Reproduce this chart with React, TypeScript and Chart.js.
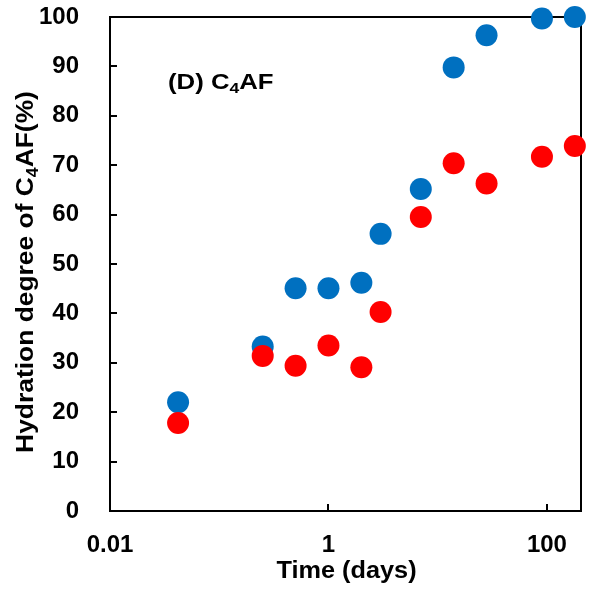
import React, { useEffect, useRef } from "react";
import { Chart, registerables } from "chart.js";

Chart.register(...registerables);

// ---- data ----
const timeDays = [0.042, 0.25, 0.5, 1, 2, 3, 7, 14, 28, 90, 180];
const blueSeries = [22.0, 33.3, 45.1, 45.1, 46.2, 56.1, 65.2, 89.8, 96.3, 99.7, 100.0];
const redSeries = [17.8, 31.4, 29.4, 33.5, 29.1, 40.3, 59.5, 70.4, 66.3, 71.7, 73.9];
const xTickValues = [0.01, 1, 100];
const xTickLabels = ["0.01", "1", "100"];
const yTickValues = [0, 10, 20, 30, 40, 50, 60, 70, 80, 90, 100];

const FONT = "'Liberation Sans', Arial, sans-serif";

type Seg = { text: string; sub?: boolean };

function drawRich(
  ctx: CanvasRenderingContext2D,
  segs: Seg[],
  size: number,
  subSize: number,
  subDrop: number,
  stretch: number,
  align: "left" | "center"
) {
  const widths = segs.map((s) => {
    ctx.font = `bold ${s.sub ? subSize : size}px ${FONT}`;
    return ctx.measureText(s.text).width;
  });
  const total = widths.reduce((a, b) => a + b, 0);
  ctx.save();
  ctx.scale(stretch, 1);
  let x = align === "center" ? -total / 2 : 0;
  ctx.textBaseline = "alphabetic";
  ctx.textAlign = "left";
  segs.forEach((s, i) => {
    ctx.font = `bold ${s.sub ? subSize : size}px ${FONT}`;
    ctx.fillText(s.text, x, s.sub ? subDrop : 0);
    x += widths[i];
  });
  ctx.restore();
}

const framePlugin = {
  id: "frameAndTicks",
  beforeDatasetsDraw(chart: any) {
    const { ctx, chartArea } = chart;
    const x = chart.scales.x;
    const y = chart.scales.y;
    ctx.save();
    ctx.strokeStyle = "#000";
    ctx.lineWidth = 2;
    ctx.beginPath();
    ctx.moveTo(chartArea.left, chartArea.top);
    ctx.lineTo(chartArea.right, chartArea.top);
    ctx.lineTo(chartArea.right, chartArea.bottom);
    ctx.stroke();
    ctx.beginPath();
    yTickValues.forEach((v) => {
      const py = Math.round(y.getPixelForValue(v));
      ctx.moveTo(chartArea.left, py);
      ctx.lineTo(chartArea.left + 7, py);
    });
    xTickValues.forEach((v) => {
      const px = Math.round(x.getPixelForValue(v));
      ctx.moveTo(px, chartArea.bottom);
      ctx.lineTo(px, chartArea.bottom - 7);
    });
    ctx.stroke();
    ctx.restore();
  },
  afterDraw(chart: any) {
    const { ctx, chartArea } = chart;
    ctx.save();
    ctx.fillStyle = "#000";
    ctx.save();
    ctx.translate((chartArea.left + chartArea.right) / 2 + 1, 578);
    drawRich(ctx, [{ text: "Time (days)" }], 23, 16, 5, 1.1, "center");
    ctx.restore();
    ctx.save();
    ctx.translate(33, 272);
    ctx.rotate(-Math.PI / 2);
    drawRich(
      ctx,
      [
        { text: "Hydration degree of C" },
        { text: "4", sub: true },
        { text: "AF(%)" },
      ],
      24,
      16,
      5,
      1.1,
      "center"
    );
    ctx.restore();
    ctx.save();
    ctx.translate(168, 89);
    drawRich(
      ctx,
      [{ text: "(D) C" }, { text: "4", sub: true }, { text: "AF" }],
      22,
      15,
      4,
      1.17,
      "left"
    );
    ctx.restore();
    ctx.restore();
  },
};

export default function App() {
  const ref = useRef<HTMLCanvasElement | null>(null);
  useEffect(() => {
    if (!ref.current) return;
    const chart = new Chart(ref.current, {
      type: "scatter",
      data: {
        datasets: [
          {
            label: "blue",
            data: timeDays.map((t, i) => ({ x: t, y: blueSeries[i] })),
            backgroundColor: "#0070C0",
            borderWidth: 0,
            pointRadius: 11,
            pointHoverRadius: 11,
            clip: false as any,
            order: 1,
          },
          {
            label: "red",
            data: timeDays.map((t, i) => ({ x: t, y: redSeries[i] })),
            backgroundColor: "#FF0000",
            borderWidth: 0,
            pointRadius: 11,
            pointHoverRadius: 11,
            clip: false as any,
            order: 0,
          },
        ],
      },
      options: {
        responsive: false,
        animation: false,
        layout: { padding: { top: 17, right: 9, left: 0, bottom: 0 } },
        plugins: { legend: { display: false }, tooltip: { enabled: false } },
        scales: {
          x: {
            type: "logarithmic",
            min: 0.01,
            max: 205,
            grid: { display: false },
            border: { display: true, color: "#000", width: 2 },
            afterBuildTicks: (scale: any) => {
              scale.ticks = xTickValues.map((v) => ({ value: v }));
            },
            afterFit: (scale: any) => {
              scale.height = 86;
              scale.paddingLeft = 0;
              scale.paddingRight = 0;
              scale.paddingTop = 0;
              scale.paddingBottom = 0;
            },
            ticks: {
              autoSkip: false,
              maxRotation: 0,
              padding: 12,
              color: "#000",
              font: { family: FONT, size: 24, weight: "bold" },
              callback: (v: any) => {
                const idx = xTickValues.indexOf(Number(v));
                return idx >= 0 ? xTickLabels[idx] : "";
              },
            },
          },
          y: {
            min: 0,
            max: 100,
            grid: { display: false },
            border: { display: true, color: "#000", width: 2 },
            afterBuildTicks: (scale: any) => {
              scale.ticks = yTickValues.map((v) => ({ value: v }));
            },
            afterFit: (scale: any) => {
              scale.width = 110;
              scale.paddingLeft = 0;
              scale.paddingRight = 0;
              scale.paddingTop = 0;
              scale.paddingBottom = 0;
            },
            ticks: {
              padding: 23,
              color: "#000",
              font: { family: FONT, size: 24, weight: "bold" },
            },
          },
        },
      },
      plugins: [framePlugin],
    });
    return () => chart.destroy();
  }, []);
  return (
    <div style={{ position: "absolute", left: 0, top: 0, width: 592, height: 597 }}>
      <canvas ref={ref} width={592} height={597} />
    </div>
  );
}
